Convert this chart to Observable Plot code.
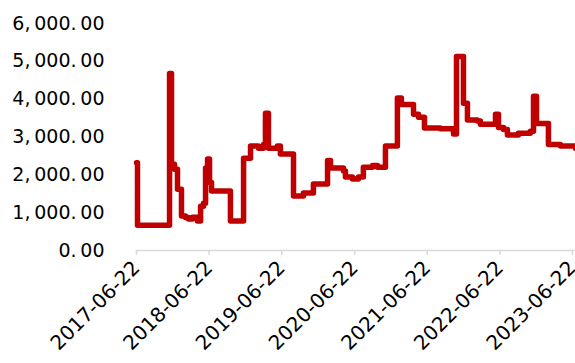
<!DOCTYPE html>
<html>
<head>
<meta charset="utf-8">
<script src="https://cdn.jsdelivr.net/npm/d3@7"></script>
<script src="https://cdn.jsdelivr.net/npm/@observablehq/plot@0.6"></script>
<style>
  html, body { margin: 0; padding: 0; background: #fff; }
  #chart { width: 575px; height: 363px; }
</style>
</head>
<body>
<div id="chart"></div>
<script>
const dates = ["2017-06-22","2017-06-27","2017-12-05","2017-12-15","2017-12-30","2018-01-14","2018-02-03","2018-02-23","2018-03-10","2018-03-30","2018-04-24","2018-05-10","2018-05-25","2018-06-04","2018-06-14","2018-06-24","2018-07-04","2018-10-07","2018-12-12","2019-01-16","2019-02-25","2019-03-22","2019-04-01","2019-04-16","2019-05-31","2019-06-15","2019-08-20","2019-10-09","2019-11-28","2020-02-07","2020-02-22","2020-04-27","2020-05-07","2020-06-11","2020-07-11","2020-08-05","2020-09-20","2020-10-15","2020-11-24","2021-01-23","2021-02-12","2021-04-14","2021-05-09","2021-06-08","2021-08-27","2021-11-01","2021-11-16","2021-12-21","2022-01-10","2022-03-01","2022-03-16","2022-05-31","2022-06-15","2022-07-10","2022-07-30","2022-09-23","2022-11-22","2022-12-08","2022-12-23","2023-02-21","2023-04-22","2023-07-07"];
const values = [2320,670,4680,2280,2150,1620,910,870,830,880,780,1170,1250,2180,2420,1800,1570,780,2440,2760,2700,2800,3630,2700,2760,2550,1440,1520,1760,2380,2180,2100,1940,1890,1940,2200,2250,2200,2760,4030,3860,3600,3520,3240,3220,3080,5130,3890,3450,3420,3340,3600,3250,3200,3050,3100,3150,4080,3360,2800,2760,2700];
const xTickLabels = ["2017-06-22","2018-06-22","2019-06-22","2020-06-22","2021-06-22","2022-06-22","2023-06-22"];
const yTicks = [0,1000,2000,3000,4000,5000,6000];
const xDomain = ["2017-06-22","2023-07-07"];

const data = dates.map((d, i) => ({date: new Date(d + "T00:00:00Z"), value: values[i]}));
const xTicks = xTickLabels.map(d => new Date(d + "T00:00:00Z"));
const fmtY = v => d3.format(",.2f")(v).replace(/,/g, ",\u2009").replace(/\./g, ".\u2009");
const fmtX = d3.utcFormat("%Y-%m-%d");

const chart = Plot.plot({
  width: 575,
  height: 363,
  marginLeft: 136,
  marginRight: 0,
  marginTop: 23,
  marginBottom: 113,
  style: {fontFamily: "'DejaVu Sans', sans-serif", color: "#000", background: "#fff"},
  x: {type: "utc", domain: xDomain.map(d => new Date(d + "T00:00:00Z"))},
  y: {domain: [0, 6000]},
  marks: [
    Plot.axisY({ticks: yTicks, tickSize: 0, tickPadding: 32, tickFormat: fmtY, fontSize: 19, label: null}),
    Plot.ruleY([0], {stroke: "#d9d9d9", strokeWidth: 1.5}),
    Plot.axisX({ticks: xTicks, tickSize: 5, tickPadding: 9, tickRotate: -45, tickFormat: fmtX, stroke: "#d9d9d9", strokeWidth: 1.5, fontSize: 20, label: null}),
    Plot.lineY(data, {x: "date", y: "value", curve: "step-after", stroke: "#c00000", strokeWidth: 5.5, strokeLinejoin: "round", strokeLinecap: "round"})
  ]
});
document.getElementById("chart").appendChild(chart);
</script>
</body>
</html>
